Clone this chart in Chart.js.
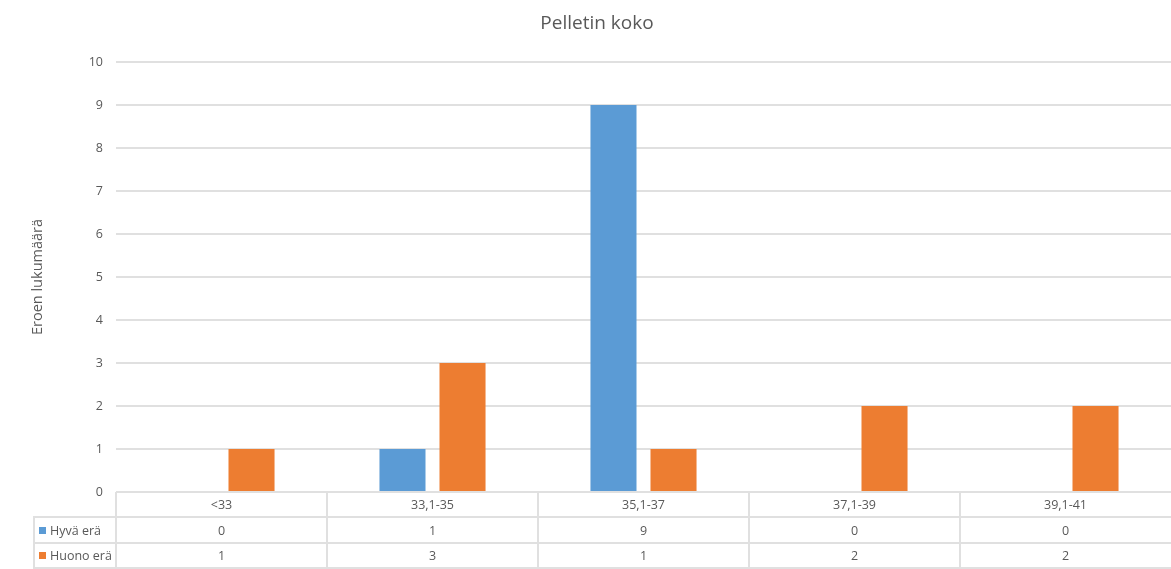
<!DOCTYPE html>
<html>
<head>
<meta charset="utf-8">
<title>Pelletin koko</title>
<script src="https://cdn.jsdelivr.net/npm/chart.js@4/dist/chart.umd.min.js"></script>
<style>
  html, body { margin: 0; padding: 0; background: #ffffff; }
  canvas { display: block; }
</style>
</head>
<body>
<canvas id="chart" width="1171" height="569"></canvas>
<script>
// Pellet size classes and how many batches fell into each
const categories = ['<33', '33,1-35', '35,1-37', '37,1-39', '39,1-41'];
const hyvaEra = [0, 1, 9, 0, 0];
const huonoEra = [1, 3, 1, 2, 2];
const seriesNames = ['Hyvä erä', 'Huono erä'];
const seriesColors = ['#5B9BD5', '#ED7D31'];
const yTicks = [0, 1, 2, 3, 4, 5, 6, 7, 8, 9, 10];

const FONT = '"Open Sans", "DejaVu Sans", sans-serif';
const TEXT = '#595959';
const LINE = '#e0e0e0';

// Data table under the plot: category header row plus one row per series.
// The table runs off the right edge, so only left-hand column borders are drawn.
const dataTable = {
  id: 'dataTable',
  afterDraw(chart) {
    const ctx = chart.ctx;
    const xs = chart.scales.x;
    const area = chart.chartArea;
    const n = categories.length;
    const colW = xs.width / n;
    const top = area.bottom;
    const rowH = (xs.bottom - top) / 3;
    const legendLeft = 34;
    const rows = [top, top + rowH, top + 2 * rowH, top + 3 * rowH];

    ctx.save();
    ctx.strokeStyle = LINE;
    ctx.lineWidth = 2;
    ctx.beginPath();
    // horizontal rules
    ctx.moveTo(xs.left, Math.round(rows[0]));
    ctx.lineTo(xs.right, Math.round(rows[0]));
    for (let r = 1; r < 4; r++) {
      ctx.moveTo(legendLeft - 1, Math.round(rows[r]));
      ctx.lineTo(xs.right, Math.round(rows[r]));
    }
    // vertical rules
    ctx.moveTo(legendLeft, rows[1]);
    ctx.lineTo(legendLeft, rows[3]);
    for (let i = 0; i < n; i++) {
      const x = Math.round(xs.getPixelForValue(i) - colW / 2);
      ctx.moveTo(x, rows[0]);
      ctx.lineTo(x, rows[3]);
    }
    ctx.stroke();

    ctx.fillStyle = TEXT;
    ctx.font = '12.5px ' + FONT;
    ctx.textAlign = 'center';
    ctx.textBaseline = 'middle';
    const seriesValues = [hyvaEra, huonoEra];
    categories.forEach((c, i) => {
      const cx = xs.getPixelForValue(i);
      ctx.fillText(c, cx, rows[0] + rowH / 2 + 1);
      seriesValues.forEach((vals, s) => {
        ctx.fillText(String(vals[i]), cx, rows[s + 1] + rowH / 2 + 1);
      });
    });

    // series keys in the left column
    ctx.textAlign = 'left';
    seriesNames.forEach((name, s) => {
      const cy = rows[s + 1] + rowH / 2;
      ctx.fillStyle = seriesColors[s];
      ctx.fillRect(39, Math.round(cy - 3.5), 7, 7);
      ctx.fillStyle = TEXT;
      ctx.fillText(name, 50, cy + 1);
    });
    ctx.restore();
  }
};

new Chart(document.getElementById('chart'), {
  type: 'bar',
  data: {
    labels: categories,
    datasets: [
      { label: seriesNames[0], data: hyvaEra, backgroundColor: seriesColors[0] },
      { label: seriesNames[1], data: huonoEra, backgroundColor: seriesColors[1] }
    ]
  },
  options: {
    responsive: false,
    animation: false,
    devicePixelRatio: 1,
    barPercentage: 0.767,
    categoryPercentage: 0.569,
    layout: { padding: { left: 23, right: 0, top: 0, bottom: 1 } },
    plugins: {
      legend: { display: false },
      tooltip: { enabled: false },
      title: {
        display: true,
        text: 'Pelletin koko',
        color: TEXT,
        font: { family: FONT, size: 19, weight: 'normal' },
        padding: { top: 12.6, bottom: 26.6 }
      }
    },
    scales: {
      x: {
        grid: { display: false },
        border: { display: false },
        ticks: { display: false },
        afterFit(scale) { scale.height = 76; }
      },
      y: {
        min: 0,
        max: 10,
        afterBuildTicks(scale) { scale.ticks = yTicks.map(v => ({ value: v })); },
        ticks: {
          color: TEXT,
          padding: 13,
          font: { family: FONT, size: 12.5 }
        },
        grid: { color: LINE, drawTicks: false, lineWidth: 2 },
        border: { display: false },
        title: {
          display: true,
          text: 'Eroen lukumäärä',
          color: TEXT,
          font: { family: FONT, size: 14.5 },
          padding: { top: 5.8, bottom: 0 }
        },
        afterFit(scale) { scale.width = 93; }
      }
    }
  },
  plugins: [dataTable]
});
</script>
</body>
</html>
